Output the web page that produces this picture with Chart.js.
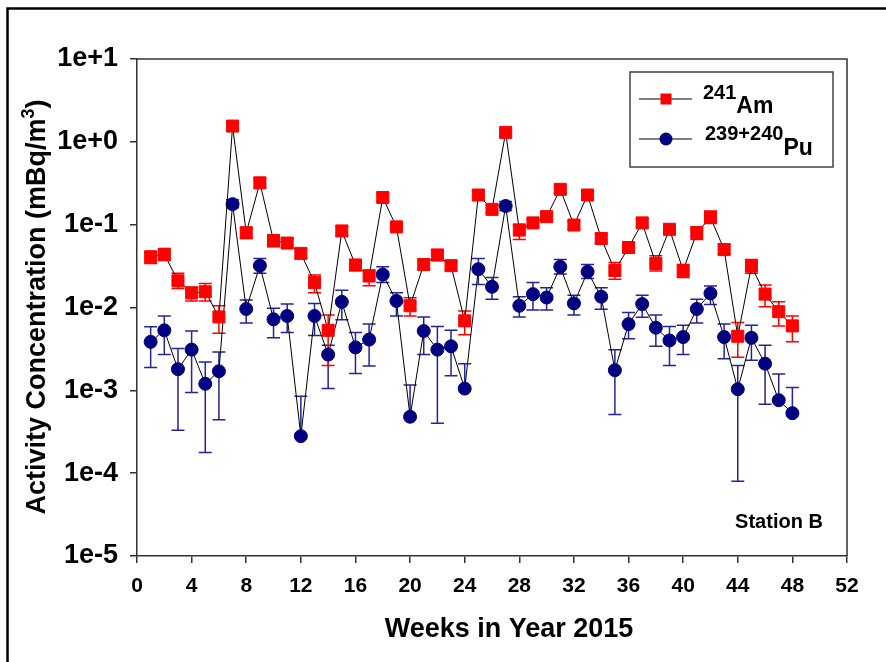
<!DOCTYPE html>
<html>
<head>
<meta charset="utf-8">
<script src="https://cdn.jsdelivr.net/npm/chart.js@4.4.0/dist/chart.umd.min.js"></script>
<style>
    body { margin: 0; background: #fff; }
    canvas { display: block; }
</style>
</head>
<body>
<canvas id="grafico" width="886" height="662"></canvas>
<script>
const semanas = [1, 2, 3, 4, 5, 6, 7, 8, 9, 10, 11, 12, 13, 14, 15, 16, 17, 18, 19, 20, 21, 22, 23, 24,
    25, 26, 27, 28, 29, 30, 31, 32, 33, 34, 35, 36, 37, 38, 39, 40, 41, 42, 43, 44, 45, 46, 47, 48];

// 241Am
const amValor = [0.041, 0.044, 0.021, 0.015, 0.0155, 0.0077, 1.55, 0.080, 0.32, 0.064, 0.060, 0.045,
    0.020, 0.0053, 0.084, 0.0325, 0.024, 0.213, 0.094, 0.0105, 0.033, 0.043, 0.032, 0.0069,
    0.228, 0.153, 1.30, 0.086, 0.105, 0.125, 0.267, 0.099, 0.228, 0.068, 0.028, 0.053,
    0.105, 0.034, 0.088, 0.028, 0.080, 0.1225, 0.050, 0.0045, 0.0316, 0.0145, 0.0089, 0.006];
const amSup = [0.047, 0.051, 0.026, 0.0175, 0.0195, 0.0105, 1.70, 0.092, 0.36, 0.075, 0.068, 0.051,
    0.0246, 0.0081, 0.096, 0.038, 0.0283, 0.24, 0.105, 0.0131, 0.038, 0.050, 0.036, 0.0091,
    0.255, 0.17, 1.43, 0.101, 0.117, 0.138, 0.295, 0.11, 0.255, 0.078, 0.035, 0.06,
    0.118, 0.042, 0.1, 0.033, 0.094, 0.146, 0.058, 0.0066, 0.038, 0.0187, 0.0117, 0.0079];
const amInf = [0.034, 0.037, 0.017, 0.012, 0.012, 0.0049, 1.36, 0.068, 0.28, 0.054, 0.053, 0.039,
    0.0151, 0.0020, 0.073, 0.028, 0.0183, 0.19, 0.085, 0.0079, 0.029, 0.037, 0.028, 0.0047,
    0.2, 0.14, 1.15, 0.066, 0.095, 0.113, 0.24, 0.088, 0.2, 0.06, 0.022, 0.046,
    0.094, 0.0275, 0.076, 0.023, 0.066, 0.1035, 0.044, 0.0025, 0.026, 0.0102, 0.006, 0.00385];

// 239+240Pu
const puValor = [0.00385, 0.0053, 0.0018, 0.0031, 0.0012, 0.0017, 0.177, 0.0096, 0.032, 0.0072, 0.0079, 0.00028,
    0.0079, 0.0027, 0.0117, 0.0033, 0.0041, 0.025, 0.012, 0.00048, 0.0052, 0.0031, 0.0034, 0.00105,
    0.029, 0.0178, 0.168, 0.0105, 0.0145, 0.0132, 0.031, 0.0112, 0.027, 0.0135, 0.00175, 0.0063,
    0.011, 0.0057, 0.004, 0.0044, 0.0096, 0.0148, 0.0044, 0.00103, 0.0043, 0.0021, 0.00076, 0.00053];
const puSup = [0.00585, 0.0079, 0.0032, 0.0052, 0.0022, 0.0029, 0.2, 0.0123, 0.039, 0.0098, 0.011, 0.00085,
    0.0112, 0.0035, 0.0162, 0.005, 0.0063, 0.031, 0.0151, 0.00116, 0.0077, 0.0059, 0.0053, 0.0021,
    0.039, 0.023, 0.19, 0.0135, 0.02, 0.0173, 0.038, 0.0141, 0.033, 0.0173, 0.0031, 0.0087,
    0.0141, 0.0081, 0.0059, 0.0061, 0.0126, 0.0182, 0.0063, 0.002, 0.0061, 0.0035, 0.00157, 0.00108];
const puInf = [0.00189, 0.0027, 0.00033, 0.00094, 0.000178, 0.00044, 0.16, 0.0065, 0.026, 0.0043, 0.005, null,
    0.0046, 0.00105, 0.0071, 0.0016, 0.00196, 0.02, 0.0079, null, 0.0027, 0.0004, 0.0015, null,
    0.019, 0.0126, 0.148, 0.0077, 0.0093, 0.0093, 0.0253, 0.0081, 0.0224, 0.0095, 0.00051, 0.0042,
    0.0076, 0.0034, 0.002, 0.0027, 0.0065, 0.0109, 0.0024, 0.00008, 0.0023, 0.00068, null, null];

const xTicks = [0, 4, 8, 12, 16, 20, 24, 28, 32, 36, 40, 44, 48, 52];
const yTicks = [1e-5, 1e-4, 1e-3, 1e-2, 1e-1, 1e0, 1e1];

const FUENTE = '"Liberation Sans", Arial, Helvetica, sans-serif';
const ROJO = '#ff0000';
const AZUL = '#000080';
const AZUL_ERR = '#23239a';

function puntos(valores) {
    return semanas.map((s, i) => ({ x: s, y: valores[i] }));
}

function barras(ctx, x, y, valor, sup, inf, color) {
    ctx.save();
    ctx.strokeStyle = color;
    ctx.lineWidth = 1.5;
    for (let i = 0; i < semanas.length; i++) {
        const px = x.getPixelForValue(semanas[i]);
        const pv = y.getPixelForValue(valor[i]);
        const pt = y.getPixelForValue(sup[i]);
        ctx.beginPath();
        ctx.moveTo(px, pv);
        ctx.lineTo(px, pt);
        ctx.moveTo(px - 6.5, pt);
        ctx.lineTo(px + 6.5, pt);
        if (inf[i] !== null) {
            const pb = y.getPixelForValue(inf[i]);
            ctx.moveTo(px, pv);
            ctx.lineTo(px, pb);
            ctx.moveTo(px - 6.5, pb);
            ctx.lineTo(px + 6.5, pb);
        }
        ctx.stroke();
    }
    ctx.restore();
}

const errorBars = {
    id: 'errorBars',
    beforeDatasetsDraw: (chart) => {
        const { ctx, scales: { x, y } } = chart;
        barras(ctx, x, y, puValor, puSup, puInf, AZUL_ERR);
        barras(ctx, x, y, amValor, amSup, amInf, ROJO);
    }
};

const bgColor = {
    id: 'bgColor',
    beforeDraw: (chart) => {
        const { ctx, width, height } = chart;
        ctx.save();
        ctx.fillStyle = 'white';
        ctx.fillRect(0, 0, width, height);
        // marco exterior
        ctx.strokeStyle = '#000';
        ctx.lineWidth = 2.5;
        ctx.beginPath();
        ctx.moveTo(7.5, height);
        ctx.lineTo(7.5, 8.5);
        ctx.lineTo(width, 8.5);
        ctx.stroke();
        ctx.restore();
    }
};

const textos = {
    id: 'textos',
    afterDraw: (chart) => {
        const { ctx, chartArea: a } = chart;
        ctx.save();

        // marco superior y derecho del area
        ctx.strokeStyle = '#333';
        ctx.lineWidth = 1.5;
        ctx.beginPath();
        ctx.moveTo(a.left, a.top);
        ctx.lineTo(a.right, a.top);
        ctx.lineTo(a.right, a.bottom);
        ctx.stroke();

        ctx.fillStyle = '#000';
        ctx.textBaseline = 'alphabetic';

        // titulo eje x
        ctx.font = 'bold 27px ' + FUENTE;
        ctx.textAlign = 'center';
        ctx.fillText('Weeks in Year 2015', 509, 637);

        // titulo eje y con superindice
        ctx.save();
        ctx.translate(45, 307);
        ctx.rotate(-Math.PI / 2);
        ctx.textAlign = 'left';
        const t1 = 'Activity Concentration (mBq/m';
        ctx.font = 'bold 27px ' + FUENTE;
        const w1 = ctx.measureText(t1).width;
        ctx.font = 'bold 18px ' + FUENTE;
        const w2 = ctx.measureText('3').width;
        ctx.font = 'bold 27px ' + FUENTE;
        const w3 = ctx.measureText(')').width;
        let x0 = -(w1 + w2 + w3) / 2;
        ctx.fillText(t1, x0, 0);
        ctx.font = 'bold 18px ' + FUENTE;
        ctx.fillText('3', x0 + w1, -11);
        ctx.font = 'bold 27px ' + FUENTE;
        ctx.fillText(')', x0 + w1 + w2, 0);
        ctx.restore();

        // Station B
        ctx.font = 'bold 20px ' + FUENTE;
        ctx.textAlign = 'center';
        ctx.fillText('Station B', 779, 528);

        // leyenda
        ctx.strokeStyle = '#444';
        ctx.lineWidth = 1.5;
        ctx.strokeRect(630, 72, 203, 95);
        ctx.strokeStyle = '#000';
        ctx.lineWidth = 1;
        ctx.beginPath();
        ctx.moveTo(639, 99); ctx.lineTo(692, 99);
        ctx.moveTo(639, 139); ctx.lineTo(692, 139);
        ctx.stroke();
        ctx.fillStyle = ROJO;
        ctx.fillRect(660.5, 93.5, 11, 11);
        ctx.fillStyle = AZUL;
        ctx.beginPath();
        ctx.arc(666, 139, 6.5, 0, Math.PI * 2);
        ctx.fill();

        ctx.fillStyle = '#000';
        ctx.textAlign = 'left';
        ctx.font = 'bold 20px ' + FUENTE;
        ctx.fillText('241', 703, 99);
        let w = ctx.measureText('241').width;
        ctx.font = 'bold 23px ' + FUENTE;
        ctx.fillText('Am', 703 + w, 113);
        ctx.font = 'bold 20px ' + FUENTE;
        ctx.fillText('239+240', 705, 140);
        w = ctx.measureText('239+240').width;
        ctx.font = 'bold 23px ' + FUENTE;
        ctx.fillText('Pu', 705 + w, 155);

        ctx.restore();
    }
};

const ctx = document.getElementById('grafico').getContext('2d');
const grafico = new Chart(ctx, {
    type: 'line',
    data: {
        datasets: [{
            label: '241Am',
            data: puntos(amValor),
            borderColor: '#000',
            borderWidth: 1,
            pointStyle: 'rect',
            pointRadius: 8.5,
            pointBackgroundColor: ROJO,
            pointBorderColor: ROJO,
            pointBorderWidth: 1,
            tension: 0
        }, {
            label: '239+240Pu',
            data: puntos(puValor),
            borderColor: '#000',
            borderWidth: 1,
            pointStyle: 'circle',
            pointRadius: 6.5,
            pointBackgroundColor: AZUL,
            pointBorderColor: AZUL,
            pointBorderWidth: 1,
            tension: 0
        }]
    },
    options: {
        responsive: false,
        animation: false,
        layout: { padding: { left: 0, top: 59, right: 39, bottom: 0 } },
        plugins: {
            legend: { display: false },
            tooltip: { enabled: false }
        },
        scales: {
            x: {
                type: 'linear',
                min: 0,
                max: 52,
                afterFit: (scale) => { scale.height = 106; },
                afterBuildTicks: (scale) => { scale.ticks = xTicks.map(v => ({ value: v })); },
                border: { color: '#333', width: 1.5 },
                grid: { drawOnChartArea: false, tickLength: 7, color: '#333', lineWidth: 1.5 },
                ticks: {
                    color: '#000',
                    padding: 11,
                    maxRotation: 0,
                    autoSkip: false,
                    font: { family: FUENTE, size: 21, weight: 'bold' }
                }
            },
            y: {
                type: 'logarithmic',
                min: 1e-5,
                max: 10,
                afterFit: (scale) => { scale.width = 137; },
                afterBuildTicks: (scale) => { scale.ticks = yTicks.map(v => ({ value: v })); },
                border: { color: '#333', width: 1.5 },
                grid: { drawOnChartArea: false, tickLength: 7, color: '#333', lineWidth: 1.5 },
                ticks: {
                    color: '#000',
                    padding: 12,
                    font: { family: FUENTE, size: 27, weight: 'bold' },
                    callback: (v) => Number(v).toExponential(0)
                }
            }
        }
    },
    plugins: [bgColor, errorBars, textos]
});
</script>
</body>
</html>
